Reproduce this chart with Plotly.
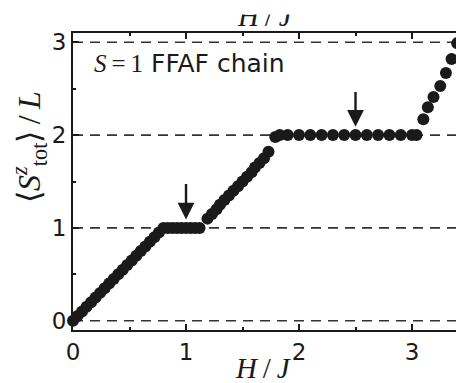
import plotly.graph_objects as go

# ---- data ----
H_field = [0.00, 0.04, 0.08, 0.12, 0.16, 0.20, 0.24, 0.28, 0.32, 0.36, 0.40,
           0.44, 0.48, 0.52, 0.56, 0.60, 0.64, 0.68, 0.72, 0.76, 0.80,
           0.84, 0.88, 0.92, 0.96, 1.00, 1.04, 1.08, 1.12,
           1.19, 1.23, 1.27, 1.30, 1.34, 1.38, 1.42, 1.46, 1.50, 1.54, 1.58,
           1.61, 1.65, 1.69, 1.73,
           1.79, 1.83, 1.90, 2.00, 2.10, 2.20, 2.30, 2.40, 2.50, 2.60, 2.70,
           2.80, 2.90, 3.00, 3.04,
           3.10, 3.14, 3.19, 3.25, 3.30, 3.35, 3.40, 3.44, 3.50]
M_per_site = [0.00, 0.05, 0.10, 0.15, 0.20, 0.25, 0.30, 0.35, 0.40, 0.45, 0.50,
              0.55, 0.60, 0.65, 0.70, 0.75, 0.80, 0.85, 0.90, 0.95, 1.00,
              1.00, 1.00, 1.00, 1.00, 1.00, 1.00, 1.00, 1.00,
              1.10, 1.15, 1.20, 1.25, 1.30, 1.35, 1.40, 1.45, 1.50, 1.55, 1.60,
              1.65, 1.70, 1.75, 1.82,
              1.98, 2.00, 2.00, 2.00, 2.00, 2.00, 2.00, 2.00, 2.00, 2.00, 2.00,
              2.00, 2.00, 2.00, 2.00,
              2.17, 2.30, 2.41, 2.53, 2.67, 2.82, 2.99, 3.00, 3.00]
plateau_levels = [0, 1, 2, 3]
arrow_H = [1.0, 2.5]
arrow_tip = [1.09, 2.09]
arrow_tail = [1.49, 2.48]
x_ticks = [0, 1, 2, 3]
y_ticks = [0, 1, 2, 3]

INK = "#1a1a1a"
SERIF = "Liberation Serif"
SANS = "DejaVu Sans"

fig = go.Figure()
fig.add_trace(go.Scatter(
    x=H_field, y=M_per_site, mode="markers",
    marker=dict(size=12, color=INK, line=dict(width=0)),
    cliponaxis=False, showlegend=False,
))

for lv in plateau_levels:
    fig.add_shape(type="line", xref="paper", x0=0, x1=1, yref="y", y0=lv, y1=lv,
                  line=dict(color="#333333", width=1.6, dash="10px,7px"), layer="below")

annotations = []
for hx, tip, tail in zip(arrow_H, arrow_tip, arrow_tail):
    annotations.append(dict(
        x=hx, y=tip, ax=hx, ay=tail, xref="x", yref="y", axref="x", ayref="y",
        text="", showarrow=True, arrowhead=2, arrowsize=1.4, arrowwidth=2.4,
        arrowcolor=INK,
    ))

annotations += [
    dict(text=f"<span style='font-family:{SERIF}'><i>S</i>\u2009=\u20091</span> FFAF chain",
         xref="paper", yref="paper", x=(92 - 73) / 391, y=(330 - 64) / 297,
         xanchor="left", yanchor="middle", showarrow=False,
         font=dict(family=SANS, size=25, color=INK)),
    dict(text="<i>H</i>\u2009/\u2009<i>J</i>", xref="paper", yref="paper",
         x=(263 - 73) / 391, y=(330 - 368) / 297, xanchor="center", yanchor="middle",
         showarrow=False, font=dict(family=SERIF, size=29, color=INK)),
    dict(text="\u27e8<i>S</i><sup><i>z</i></sup><sub>tot</sub>\u27e9\u2009/\u2009<i>L</i>",
         xref="paper", yref="paper", x=(29 - 73) / 391, y=(330 - 147) / 297,
         xanchor="center", yanchor="middle", textangle=-90,
         showarrow=False, font=dict(family=SERIF, size=32, color=INK)),
    # top axis label, mostly cut off at the top edge of the picture
    dict(text="<i>H</i>\u2009/\u2009<i>J</i>", xref="paper", yref="paper",
         x=(265 - 73) / 391, y=(330 - 16) / 297, xanchor="center", yanchor="middle",
         showarrow=False, font=dict(family=SERIF, size=29, color=INK)),
    dict(text=" ", xref="paper", yref="paper", x=(265 - 73) / 391, y=(330 - 7) / 297,
         xanchor="center", yanchor="middle", width=90, height=14,
         bgcolor="white", borderpad=0, showarrow=False, font=dict(size=8)),
]

# the page body adds an 8 px offset, so the figure is 8 px smaller on each side
fig.update_layout(
    width=456, height=375,
    margin=dict(l=65, r=0, t=25, b=53, autoexpand=False),
    paper_bgcolor="white", plot_bgcolor="white",
    annotations=annotations,
    font=dict(family=SANS, color=INK),
)
fig.update_xaxes(
    range=[0, 3.46], tickvals=x_ticks, ticktext=[str(v) for v in x_ticks],
    ticks="inside", ticklen=6, tickwidth=2, tickcolor=INK,
    minor=dict(dtick=0.5, tick0=0, ticks="inside", ticklen=3, tickwidth=2, tickcolor=INK),
    showline=True, linewidth=2.2, linecolor=INK, mirror="ticks",
    showgrid=False, zeroline=False, automargin=False,
    tickfont=dict(family=SANS, size=23, color=INK),
)
fig.update_yaxes(
    range=[-0.1, 3.1], tickvals=y_ticks, ticktext=[str(v) for v in y_ticks],
    ticks="inside", ticklen=6, tickwidth=2, tickcolor=INK,
    minor=dict(dtick=0.5, tick0=0, ticks="inside", ticklen=3, tickwidth=2, tickcolor=INK),
    showline=True, linewidth=2.2, linecolor=INK, mirror=False,
    showgrid=False, zeroline=False, automargin=False,
    tickfont=dict(family=SANS, size=23, color=INK),
)

fig.write_html("out.html")
